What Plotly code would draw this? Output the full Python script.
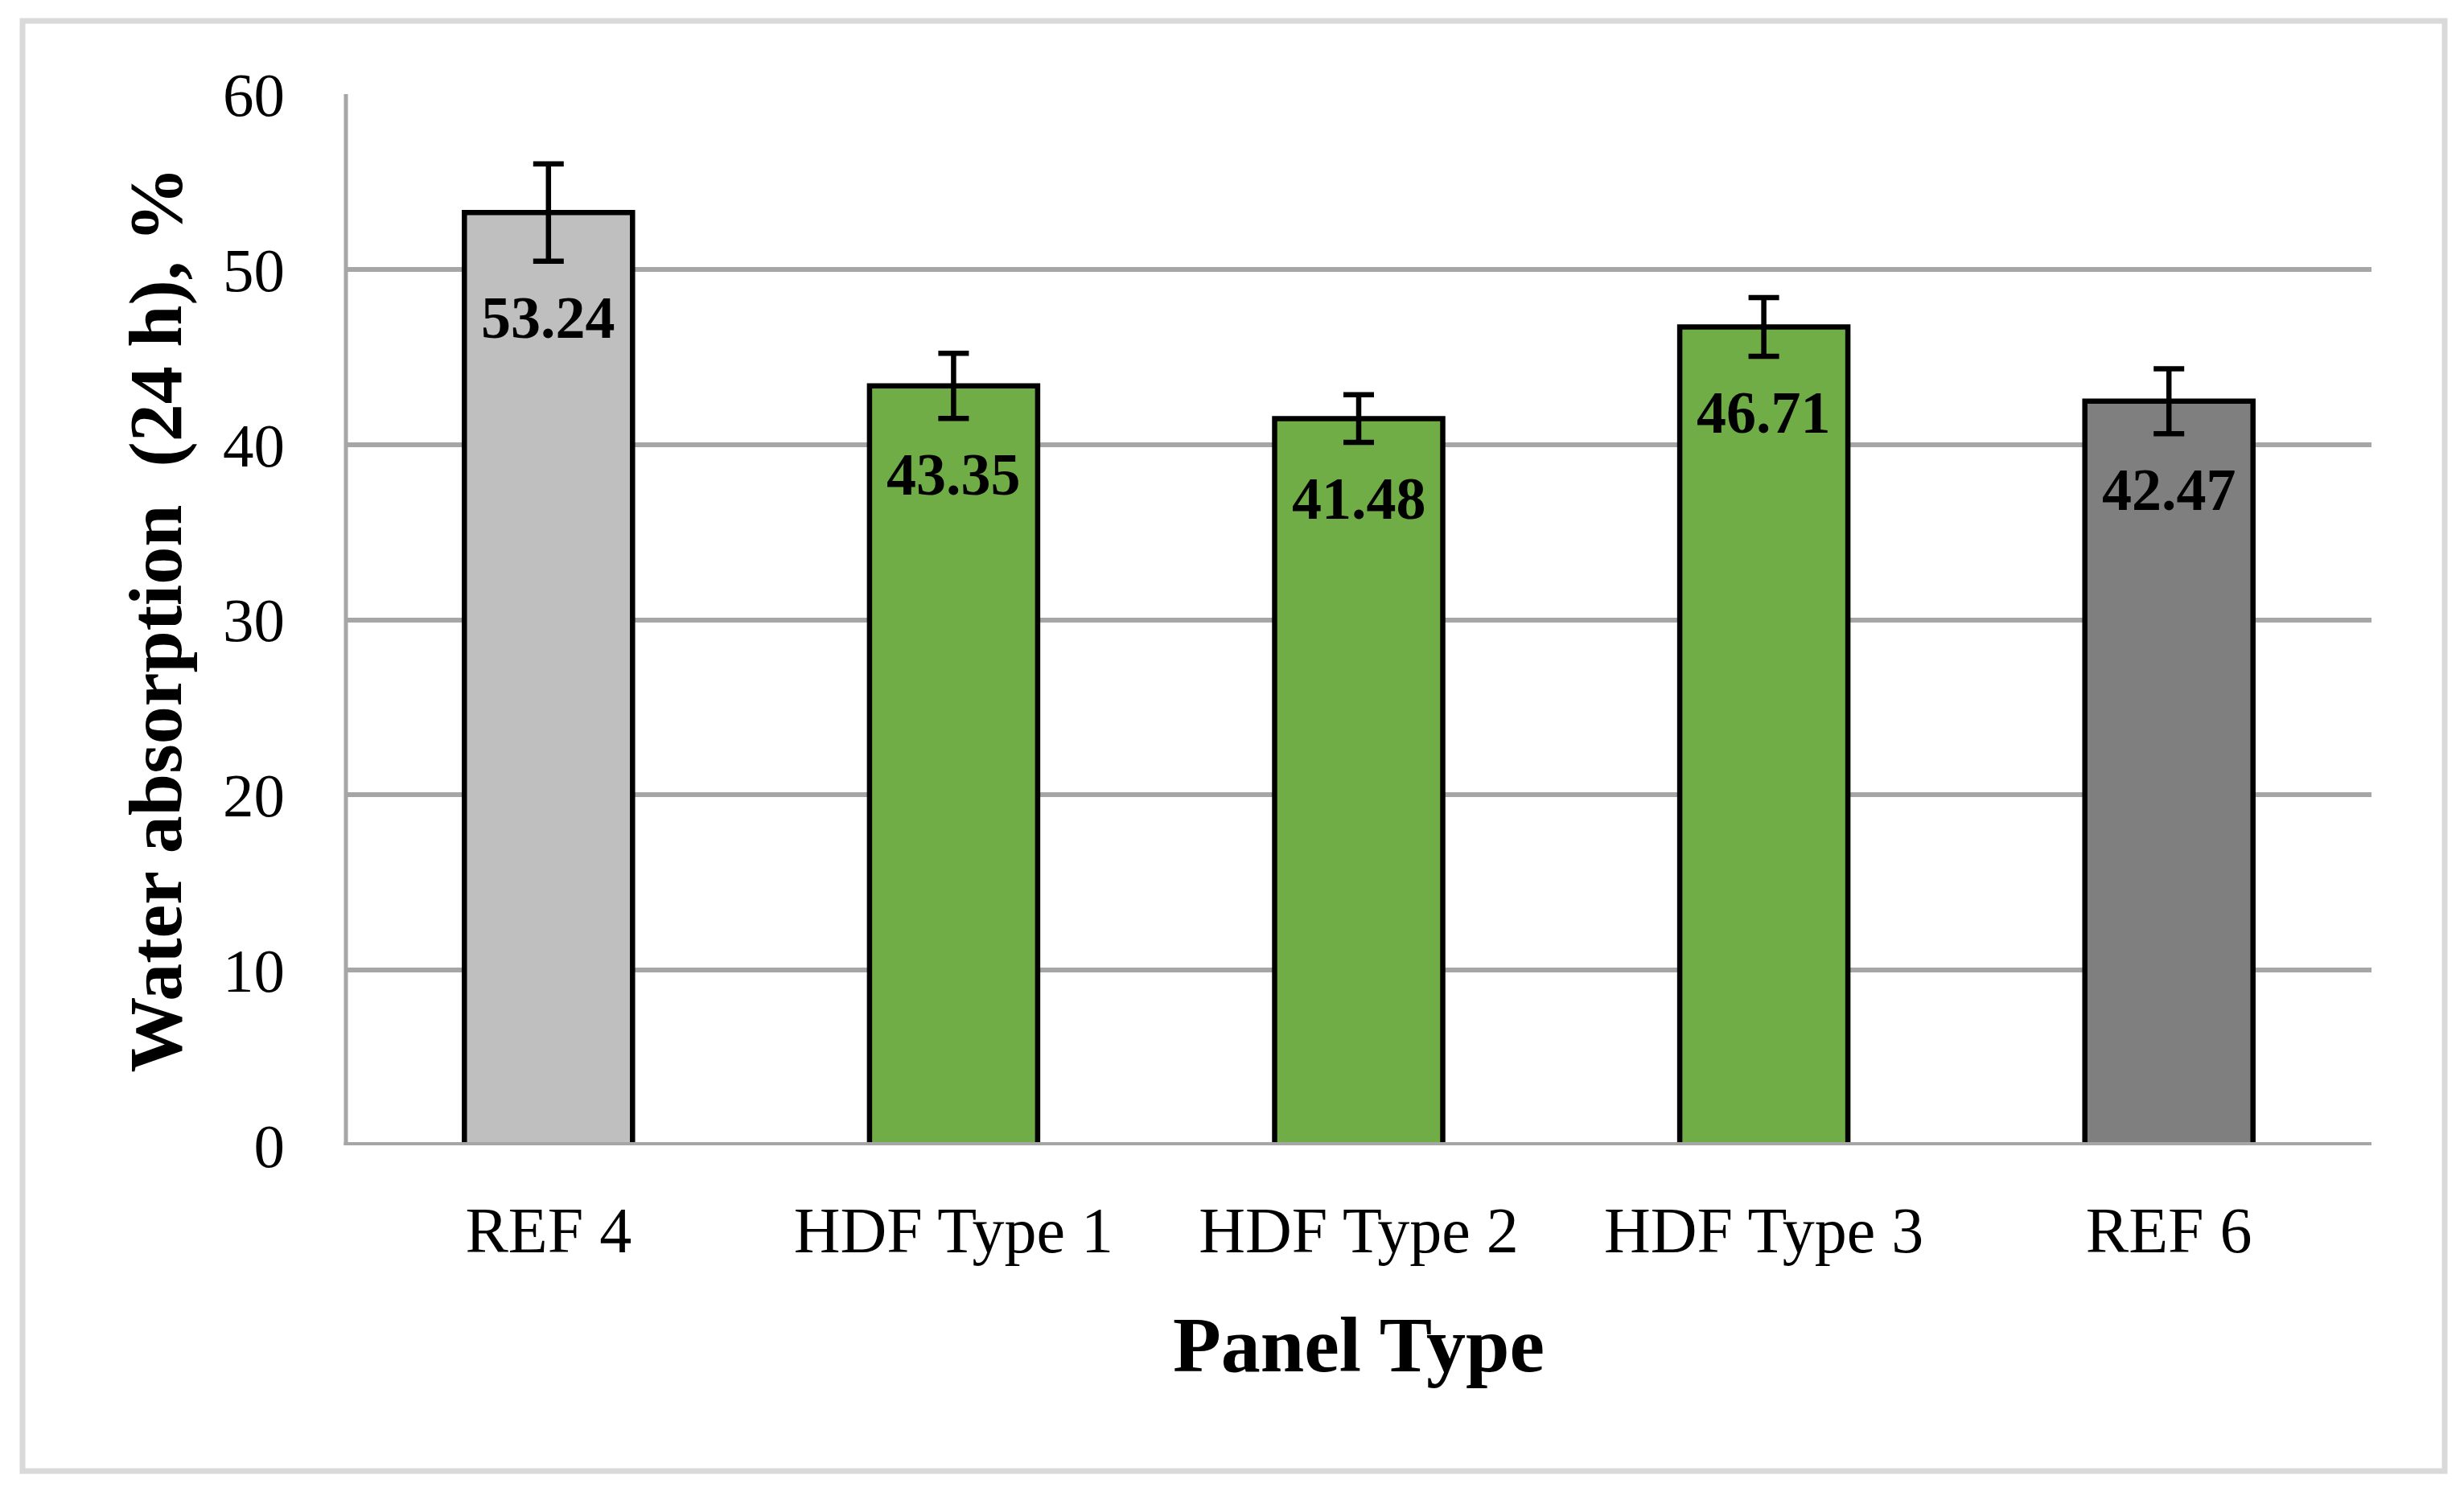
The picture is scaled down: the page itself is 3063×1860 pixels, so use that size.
import plotly.graph_objects as go

categories = ["REF 4", "HDF Type 1", "HDF Type 2", "HDF Type 3", "REF 6"]
values = [53.24, 43.35, 41.48, 46.71, 42.47]
errors = [2.78, 1.86, 1.36, 1.68, 1.85]
colors = ["#bfbfbf", "#70ad47", "#70ad47", "#70ad47", "#7f7f7f"]
y_ticks = [0, 10, 20, 30, 40, 50, 60]

W, H = 3063, 1860
L, R, T, B = 430, 115, 117, 436
FONT = "Palatino Linotype, Book Antiqua, Palatino, Liberation Serif, serif"

fig = go.Figure()
fig.add_trace(go.Bar(
    x=categories, y=values,
    marker=dict(color=colors, line=dict(color="black", width=6.5)),
    error_y=dict(type="data", array=errors, visible=True, color="black",
                 thickness=6.5, width=19),
    width=0.415,
    showlegend=False,
    hoverinfo="x+y",
))

annotations = []
for c, v, e in zip(categories, values, errors):
    annotations.append(dict(
        x=c, y=v - e, xref="x", yref="y", text=f"<b>{v:.2f}</b>",
        showarrow=False, yanchor="top", xanchor="center", yshift=-27,
        font=dict(family=FONT, size=74, color="black"),
    ))

plot_w = W - L - R
plot_h = H - T - B
# y axis title
annotations.append(dict(
    x=(192 - L) / plot_w, y=0.5, xref="paper", yref="paper",
    text="<b>Water absorption \u00a0(24 h), %</b>", textangle=-90,
    showarrow=False, xanchor="center", yanchor="middle",
    font=dict(family=FONT, size=94, color="black"),
))
# x axis title
annotations.append(dict(
    x=0.5, y=-(1672 - (H - B)) / plot_h, xref="paper", yref="paper",
    text="<b>Panel Type</b>",
    showarrow=False, xanchor="center", yanchor="middle",
    font=dict(family=FONT, size=98, color="black"),
))

shapes = [
    # outer chart border
    dict(type="rect", xref="paper", yref="paper",
         x0=(28 - L) / plot_w, x1=(3039 - L) / plot_w,
         y0=-(1829 - (H - B)) / plot_h, y1=1 + (T - 26) / plot_h,
         line=dict(color="#d9d9d9", width=7), layer="below"),
    # left vertical axis line
    dict(type="line", xref="paper", yref="y", x0=0, x1=0, y0=0, y1=60.1,
         line=dict(color="#a6a6a6", width=5), layer="below"),
    # bottom horizontal axis line
    dict(type="line", xref="paper", yref="y", x0=-0.001, x1=1, y0=0, y1=0,
         line=dict(color="#a6a6a6", width=8), layer="above"),
]

fig.update_layout(
    width=W, height=H,
    margin=dict(l=L, r=R, t=T, b=B, autoexpand=False),
    paper_bgcolor="white", plot_bgcolor="white",
    bargap=0.585,
    annotations=annotations,
    shapes=shapes,
    font=dict(family=FONT, color="black"),
    xaxis=dict(
        showline=False, showgrid=False, zeroline=False, ticks="",
        tickfont=dict(family=FONT, size=80, color="black"),
        ticklabelstandoff=52,
    ),
    yaxis=dict(
        range=[0, 60], tickvals=y_ticks, ticktext=[str(t) for t in y_ticks],
        showgrid=True, gridcolor="#a6a6a6", gridwidth=6,
        zeroline=False, showline=False, ticks="",
        tickfont=dict(family=FONT, size=77, color="black"),
        ticklabelstandoff=75,
    ),
)

fig.write_html("out.html", config={"displayModeBar": False},
               post_script="document.body.style.margin='0';")
